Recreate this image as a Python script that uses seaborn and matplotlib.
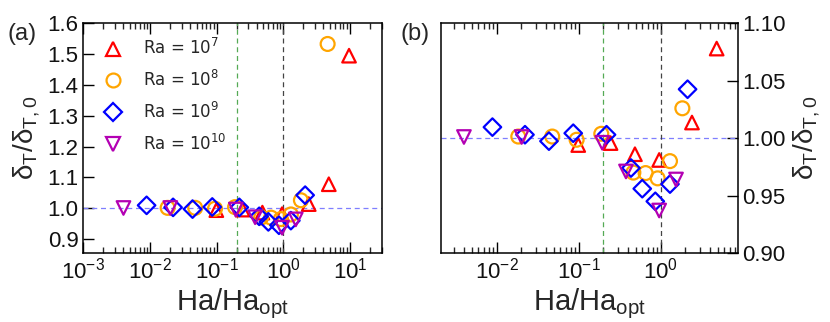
import numpy as np
import pandas as pd
import matplotlib
matplotlib.use("Agg")
import matplotlib.pyplot as plt
import seaborn as sns
from matplotlib.lines import Line2D
from matplotlib.ticker import LogLocator, NullFormatter

sns.set_style("ticks")
plt.rcParams['font.family'] = ['Liberation Sans', 'DejaVu Sans']
plt.rcParams['mathtext.fontset'] = 'custom'
plt.rcParams['mathtext.rm'] = 'Liberation Sans'
plt.rcParams['mathtext.it'] = 'Liberation Sans'
plt.rcParams['mathtext.default'] = 'regular'

# Ha/Ha_opt and delta_T/delta_T,0 for each Ra
ra7_x = [0.099, 0.245, 0.486, 0.96, 2.41, 4.82, 9.7]
ra7_y = [0.994, 0.9957, 0.986, 0.981, 1.0136, 1.078, 1.495]
ra8_x = [0.0184, 0.0477, 0.0946, 0.189, 0.465, 0.656, 0.919, 1.30, 1.84, 4.63]
ra8_y = [1.0014, 1.0014, 0.9986, 1.0038, 0.970, 0.9696, 0.965, 0.980, 1.026, 1.533]
ra9_x = [0.0089, 0.0222, 0.0435, 0.086, 0.219, 0.435, 0.597, 0.861, 1.30, 2.13]
ra9_y = [1.0096, 1.003, 0.9974, 1.0043, 1.003, 0.974, 0.956, 0.945, 0.960, 1.0426]
ra10_x = [0.004, 0.0202, 0.194, 0.378, 0.96, 1.54]
ra10_y = [1.001, 1.001, 0.996, 0.971, 0.937, 0.964]

series = ['Ra = $10^{7}$', 'Ra = $10^{8}$', 'Ra = $10^{9}$', 'Ra = $10^{10}$']
colors = ['#ff0000', '#ffa500', '#0000ff', '#b300b3']
markers = ['^', 'o', 'D', 'v']
sizes = [95, 100, 80, 95]

frames = []
for name, xs, ys in zip(series, [ra7_x, ra8_x, ra9_x, ra10_x], [ra7_y, ra8_y, ra9_y, ra10_y]):
    frames.append(pd.DataFrame({'x': xs, 'y': ys, 'Ra': name}))
df = pd.concat(frames, ignore_index=True)

fig = plt.figure(figsize=(8.3, 3.22), dpi=100)
ax_a = fig.add_axes([0.1004, 0.2143, 0.3595, 0.7133])
ax_b = fig.add_axes([0.5313, 0.2143, 0.3575, 0.7133])


def draw(ax):
    ax.axhline(1.0, color='#7f7fff', ls='--', lw=0.9, dashes=(4, 3), zorder=1)
    ax.axvline(0.2, color='#55aa55', ls='--', lw=0.9, dashes=(4, 3), zorder=1)
    ax.axvline(1.0, color='#444444', ls='--', lw=0.9, dashes=(4, 3), zorder=1)
    for name, c, m, s in zip(series, colors, markers, sizes):
        sub = df[df['Ra'] == name]
        sns.scatterplot(data=sub, x='x', y='y', marker=m, s=s, ax=ax,
                        color=c, legend=False, zorder=3)
    for coll in ax.collections:
        fc = coll.get_facecolors()
        coll.set_edgecolors(fc)
        coll.set_facecolors('none')
        coll.set_linewidths(1.6)
    ax.set_xscale('log')
    ax.xaxis.set_major_locator(LogLocator(base=10, numticks=20))
    ax.xaxis.set_minor_locator(LogLocator(base=10, subs=np.arange(2, 10), numticks=20))
    ax.xaxis.set_minor_formatter(NullFormatter())
    ax.tick_params(which='major', direction='in', length=8, width=1, labelsize=16,
                   top=True, colors='black', labelcolor='#111111')
    ax.tick_params(which='minor', direction='in', length=4, width=1, top=True)
    ax.set_xlabel('Ha/Ha$_{opt}$', fontsize=21, labelpad=2)
    for sp in ax.spines.values():
        sp.set_linewidth(1.1)
        sp.set_visible(True)
        sp.set_color('black')


draw(ax_a)
ax_a.set_xlim(1e-3, 30)
ax_a.set_ylim(0.855, 1.6)
ax_a.set_yticks([0.9, 1.0, 1.1, 1.2, 1.3, 1.4, 1.5, 1.6])
ax_a.set_ylabel('δ$_T$/δ$_{T,0}$', fontsize=20, labelpad=4)
ax_a.tick_params(axis='y', which='both', left=True, right=False)

handles = [Line2D([], [], ls='none', marker=m, markersize=10 if m != 'D' else 9,
                  markerfacecolor='none', markeredgecolor=c, markeredgewidth=1.6)
           for c, m in zip(colors, markers)]
ax_a.legend(handles, series, loc='upper left', bbox_to_anchor=(-0.008, 1.0),
            frameon=False, prop={'family': 'DejaVu Sans', 'size': 12},
            handletextpad=0.85, labelspacing=0.7)

draw(ax_b)
ax_b.set_xlim(0.0021, 8.7)
ax_b.set_ylim(0.90, 1.10)
ax_b.set_yticks([0.90, 0.95, 1.00, 1.05, 1.10])
ax_b.set_yticklabels(['0.90', '0.95', '1.00', '1.05', '1.10'])
ax_b.yaxis.tick_right()
ax_b.yaxis.set_label_position('right')
ax_b.tick_params(axis='y', which='both', left=False, right=True)
ax_b.set_ylabel('δ$_T$/δ$_{T,0}$', fontsize=20, labelpad=4)

fig.text(0.009, 0.877, '(a)', fontsize=17)
fig.text(0.482, 0.877, '(b)', fontsize=17)

fig.savefig('out.png', dpi=100)
